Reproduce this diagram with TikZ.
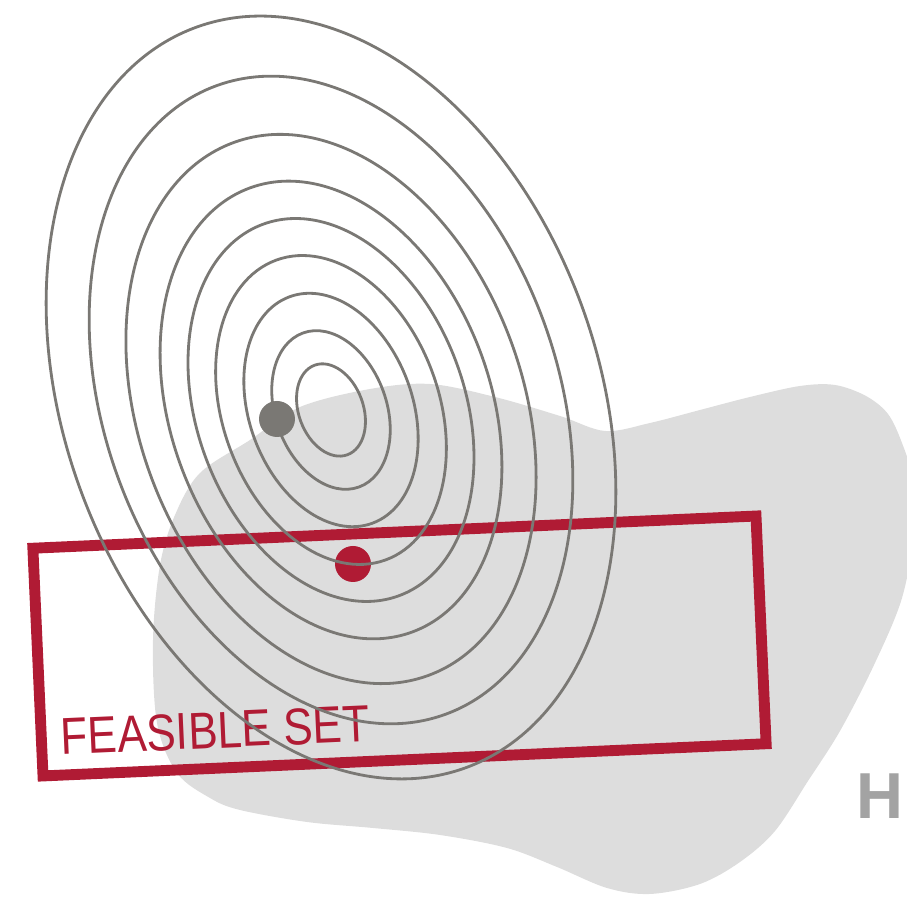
\documentclass[tikz,border=0pt]{standalone}
\usepackage{fontspec}
\newfontfamily\setfont[FakeStretch=0.85]{Liberation Sans}
\newfontfamily\hfont{Liberation Sans}
\usepackage{tikz}
\usetikzlibrary{positioning}
\definecolor{setred}{RGB}{176,27,52}
\definecolor{levelgray}{RGB}{122,120,116}
\definecolor{blobgray}{RGB}{221,221,221}
\definecolor{hgray}{RGB}{163,163,163}
\tikzset{
  levelset/.style={draw=levelgray, line width=1.6pt},
  feasbox/.style={draw=setred, line width=6.2pt, rectangle, inner sep=0pt,
    minimum width=14.48cm, minimum height=4.56cm},
  optdot/.style={circle, inner sep=0pt, minimum size=0.72cm},
}

\begin{document}
\begin{tikzpicture}[x=0.02cm, y=0.02cm]
  \useasboundingbox (0,0) rectangle (907,898);

  % Grey region
  \fill[blobgray] plot[smooth cycle, tension=0.55] coordinates {
    (153,258) (157,175) (177,125) (210,100) (240,88) (307,76) (373,70)
    (440,63) (507,50) (557,31) (607,10) (650,4) (700,14) (740,36)
    (775,67) (808,117) (840,167) (874,233) (902,300) (914,368) (912,421)
    (902,455) (888,484) (866,502) (835,513) (800,512) (750,501) (700,488)
    (650,475) (605,467) (560,482) (495,501) (430,514) (370,509) (300,491)
    (250,458) (200,425) (175,383) (160,333)};

  % Feasible set
  \node[feasbox, rotate=2.55] (feasible) at (399.5,252) {};
  \node[anchor=base west, rotate=2.55, inner sep=0pt, text=setred,
        font=\setfont\fontsize{29.5}{30}\selectfont] (feaslabel) at (61.5,143)
    {FEASIBLE SET};

  % Optima
  \node[optdot, fill=levelgray] (xfree) at (277,479) {};
  \node[optdot, fill=setred] (xcon) at (353,334) {};

  % Level sets
  \foreach \s/\cy in {0.121/488, 0.208/488, 0.306/488, 0.405/488, 0.502/488,
                      0.60/488, 0.72/489, 0.849/498, 1/500.5} {
    \pgfmathsetmacro{\rx}{267*\s}
    \pgfmathsetmacro{\ry}{394*\s}
    \draw[levelset, rotate around={20:(331,\cy)}]
      (331,\cy) ellipse [x radius=\rx, y radius=\ry];
  }

  \node[anchor=base west, inner sep=0pt, text=hgray,
        font=\hfont\bfseries\fontsize{37}{38}\selectfont] (hlabel) at (856,79) {H};
\end{tikzpicture}
\end{document}
